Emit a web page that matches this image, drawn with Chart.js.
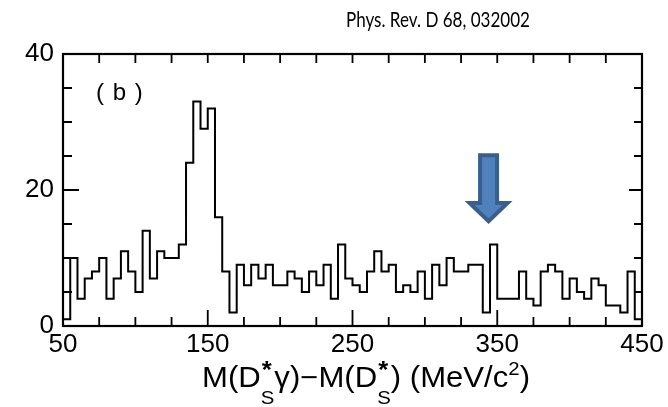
<!DOCTYPE html>
<html>
<head>
<meta charset="utf-8">
<script src="https://cdn.jsdelivr.net/npm/chart.js@4.4.1/dist/chart.umd.min.js"></script>
<style>
  html, body { margin: 0; padding: 0; background: #fff; }
  #wrap { position: relative; width: 668px; height: 407px; overflow: hidden; }
  #chart { position: absolute; left: 0; top: 0; }
  .txt { position: absolute; white-space: nowrap; color: #000; font-family: "Liberation Sans", Arial, sans-serif; transform-origin: 0 0; }
  #ref { top: 6px; font-family: Lato, "Open Sans", sans-serif; font-size: 21px; }
  #panel { left: 96px; top: 78px; font-size: 24px; letter-spacing: 1px; }
  #xtitle { top: 358px; font-size: 29px; line-height: 1.15; }
  .ss { position: relative; display: inline; }
  .ss .lo { font-size: 19px; vertical-align: -17px; }
  .ss .hi { position: absolute; left: 1px; top: -5px; font-size: 24px; font-weight: bold; }
  .sup2 { font-size: 19px; vertical-align: 12px; }
</style>
</head>
<body>
<div id="wrap">
  <canvas id="chart" width="668" height="407"></canvas>
  <div class="txt" id="ref">Phys. Rev. D 68, 032002</div>
  <div class="txt" id="panel">( b )</div>
  <div class="txt" id="xtitle">M(D<span class="ss"><span class="lo">S</span><span class="hi">*</span></span>γ)−M(D<span class="ss"><span class="lo">S</span><span class="hi">*</span></span>) (MeV/c<span class="sup2">2</span>)</div>
</div>
<script>
document.addEventListener("DOMContentLoaded", () => {
  // --- DATA ---
  const binStart = 50;   // MeV/c^2, lower edge of first bin
  const binWidth = 5;    // MeV/c^2
  const counts = [
    1, 10, 4, 7, 8, 10, 4, 7, 11, 8,
    5, 14, 7, 11, 10, 10, 12, 24, 33, 29,
    32, 16, 8, 2, 9, 6, 9, 7, 9, 6,
    6, 8, 7, 5, 8, 6, 9, 4, 12, 7,
    6, 5, 8, 11, 8, 9, 5, 6, 5, 8,
    4, 9, 6, 10, 8, 8, 9, 9, 2, 12,
    4, 4, 4, 8, 4, 3, 8, 9, 8, 4,
    7, 5, 4, 7, 6, 3, 3, 2, 8, 1
  ];
  const xTicks = [50, 150, 250, 350, 450];
  const yTicks = [0, 20, 40];

  // --- CONFIG ---
  const FONT = "'Liberation Sans', Arial, sans-serif";
  const arrow = { x: 344, tip: 15.4, headBase: 18.1, top: 25.1 }; // data units

  // --- HELPERS ---
  // squeeze/stretch a text block so it spans [left, left + width]
  const fitText = (id, left, width) => {
    const el = document.getElementById(id);
    if (!el) return;
    const w = el.getBoundingClientRect().width;
    el.style.left = left + "px";
    el.style.transform = `scaleX(${width / w})`;
  };
  fitText("ref", 346, 184);
  fitText("xtitle", 202, 328);

  // step outline: each point is a bin's lower edge, last point closes the last bin
  const points = counts.map((c, i) => ({ x: binStart + i * binWidth, y: c }));
  points.push({ x: binStart + counts.length * binWidth, y: counts[counts.length - 1] });

  // --- PLUGINS ---
  const frameTicks = {
    id: "frameTicks",
    afterDatasetsDraw(chart) {
      const { ctx, chartArea: a, scales: { x, y } } = chart;
      ctx.save();
      ctx.strokeStyle = "#000";
      ctx.lineWidth = 1.8;
      ctx.beginPath();
      for (let v = 50; v <= 450; v += 25) {
        const px = x.getPixelForValue(v);
        const major = xTicks.includes(v);
        ctx.moveTo(px, a.bottom);
        ctx.lineTo(px, a.bottom - (major ? 16 : 9));
        ctx.moveTo(px, a.top);
        ctx.lineTo(px, a.top + 9);
      }
      for (let v = 0; v <= 40; v += 5) {
        const py = y.getPixelForValue(v);
        const major = yTicks.includes(v);
        ctx.moveTo(a.left, py);
        ctx.lineTo(a.left + (major ? 16 : 9), py);
        ctx.moveTo(a.right, py);
        ctx.lineTo(a.right - (major ? 13 : 8), py);
      }
      ctx.stroke();
      ctx.lineWidth = 2.2;
      ctx.strokeRect(a.left, a.top, a.right - a.left, a.bottom - a.top);
      ctx.restore();
    }
  };

  const arrowMark = {
    id: "arrowMark",
    afterDraw(chart) {
      const { ctx, scales: { x, y } } = chart;
      const cx = x.getPixelForValue(arrow.x);
      const tipY = y.getPixelForValue(arrow.tip);
      const baseY = y.getPixelForValue(arrow.headBase);
      const topY = y.getPixelForValue(arrow.top);
      const shaft = 8.5, head = 19;
      ctx.save();
      ctx.beginPath();
      ctx.moveTo(cx - shaft, topY);
      ctx.lineTo(cx + shaft, topY);
      ctx.lineTo(cx + shaft, baseY);
      ctx.lineTo(cx + head, baseY);
      ctx.lineTo(cx, tipY);
      ctx.lineTo(cx - head, baseY);
      ctx.lineTo(cx - shaft, baseY);
      ctx.closePath();
      ctx.fillStyle = "#4f81bd";
      ctx.fill();
      ctx.lineWidth = 4;
      ctx.lineJoin = "miter";
      ctx.strokeStyle = "#3a5f8d";
      ctx.stroke();
      ctx.restore();
    }
  };

  // --- CHART ---
  new Chart(document.getElementById("chart").getContext("2d"), {
    type: "line",
    data: {
      datasets: [{
        data: points,
        stepped: "before",
        borderColor: "#000",
        borderWidth: 2,
        pointRadius: 0,
        fill: false,
        tension: 0
      }]
    },
    options: {
      responsive: false,
      animation: false,
      layout: { padding: { top: 54, right: 26, left: 0, bottom: 0 } },
      plugins: { legend: { display: false }, tooltip: { enabled: false }, title: { display: false } },
      scales: {
        x: {
          type: "linear",
          min: 50,
          max: 450,
          afterBuildTicks: (s) => { s.ticks = xTicks.map((v) => ({ value: v })); },
          afterFit: (s) => { s.height = 81; },
          grid: { display: false, drawTicks: false },
          border: { display: false },
          ticks: { color: "#000", font: { family: FONT, size: 26 }, padding: 3, maxRotation: 0, autoSkip: false }
        },
        y: {
          min: 0,
          max: 40,
          afterBuildTicks: (s) => { s.ticks = yTicks.map((v) => ({ value: v })); },
          afterFit: (s) => { s.width = 63; },
          grid: { display: false, drawTicks: false },
          border: { display: false },
          ticks: { color: "#000", font: { family: FONT, size: 26 }, padding: 9 }
        }
      }
    },
    plugins: [frameTicks, arrowMark]
  });
});
</script>
</body>
</html>
